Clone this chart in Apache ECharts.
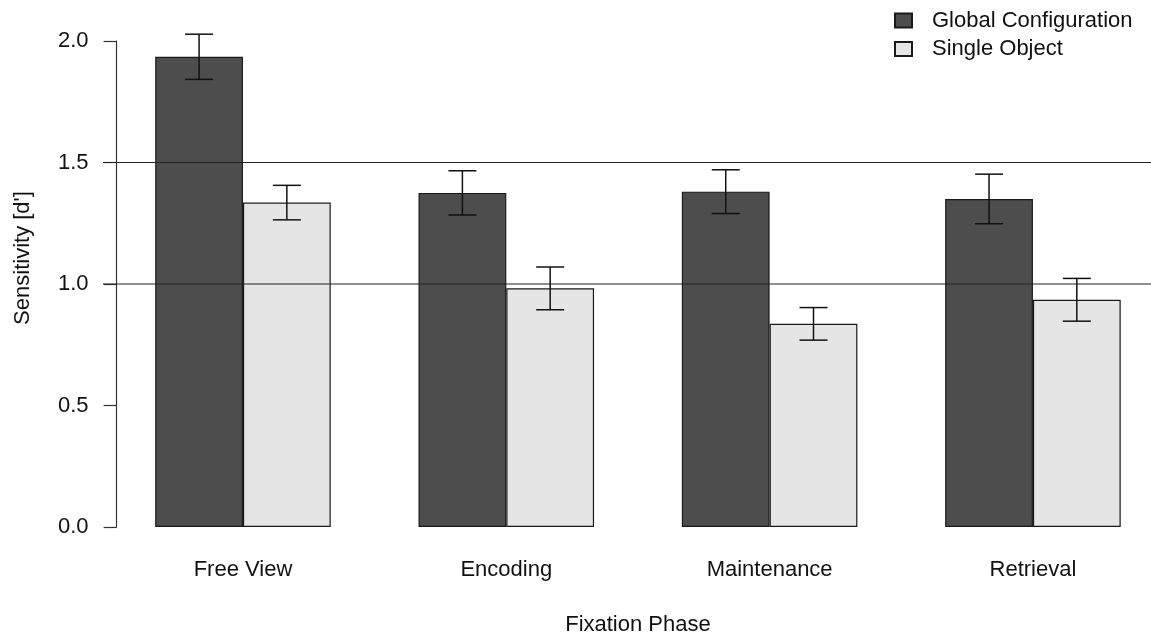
<!DOCTYPE html>
<html>
<head>
<meta charset="utf-8">
<script src="https://cdn.jsdelivr.net/npm/echarts@6/dist/echarts.min.js"></script>
<style>
html,body{margin:0;padding:0;background:#fff;overflow:hidden;}
#chart{width:1151px;height:635px;}
</style>
</head>
<body>
<div id="chart"></div>
<script>
// ---- data ----
const categories = ['Free View', 'Encoding', 'Maintenance', 'Retrieval'];
const seriesNames = ['Global Configuration', 'Single Object'];
const globalValues = [1.935, 1.375, 1.380, 1.350];
const globalErrors = [0.093, 0.091, 0.090, 0.102];
const singleValues = [1.335, 0.982, 0.836, 0.935];
const singleErrors = [0.071, 0.088, 0.067, 0.088];
const referenceLines = [1.0, 1.5];
const yTicks = [0, 0.5, 1.0, 1.5, 2.0];

const FONT = 'Liberation Sans, Arial, sans-serif';
const FS = 22;
const TXT = '#111';

function errData(vals, errs) {
  return vals.map((v, i) => [i, v - errs[i], v + errs[i]]);
}

function errRender(side) {
  return function (params, api) {
    const idx = api.value(0);
    const lo = api.coord([idx, api.value(1)]);
    const hi = api.coord([idx, api.value(2)]);
    const band = api.size([1, 0])[0];
    const x = lo[0] + side * band / 6;
    const hw = 14;
    const style = { stroke: '#111', lineWidth: 1.5 };
    return {
      type: 'group',
      children: [
        { type: 'line', shape: { x1: x, y1: lo[1], x2: x, y2: hi[1] }, style },
        { type: 'line', shape: { x1: x - hw, y1: lo[1], x2: x + hw, y2: lo[1] }, style },
        { type: 'line', shape: { x1: x - hw, y1: hi[1], x2: x + hw, y2: hi[1] }, style }
      ]
    };
  };
}

const chart = echarts.init(document.getElementById('chart'), null, { renderer: 'canvas' });

const refSeries = referenceLines.map(v => ({
  type: 'line',
  xAxisIndex: 1, yAxisIndex: 1,
  data: [[0, v], [1, v]],
  showSymbol: false, symbol: 'none',
  silent: true,
  z: 5,
  lineStyle: { color: '#222', width: 1.2 }
}));

chart.setOption({
  animation: false,
  backgroundColor: '#fff',
  textStyle: { fontFamily: FONT },
  grid: [
    { left: 111.3, width: 1053.3, top: 41, height: 486, containLabel: false, outerBoundsMode: 'none' },
    { left: 103, width: 1048, top: 41, height: 486, containLabel: false, outerBoundsMode: 'none' }
  ],
  legend: {
    orient: 'vertical',
    left: 889, top: 4.5,
    itemWidth: 17, itemHeight: 14,
    itemGap: 6.5,
    icon: 'rect',
    data: seriesNames,
    textStyle: { fontFamily: FONT, fontSize: FS, color: TXT, lineHeight: 22, padding: [0, 0, 0, 15] }
  },
  xAxis: [
    {
      type: 'category', gridIndex: 0,
      data: categories,
      axisLine: { show: false }, axisTick: { show: false },
      axisLabel: { fontFamily: FONT, fontSize: FS, color: TXT, margin: 32, lineHeight: 22 },
      name: 'Fixation Phase', nameLocation: 'middle', nameGap: 87,
      nameTextStyle: { fontFamily: FONT, fontSize: FS, color: TXT }
    },
    { type: 'value', gridIndex: 1, min: 0, max: 1, show: false }
  ],
  yAxis: [
    {
      type: 'value', gridIndex: 0, min: 0, max: 2, interval: 0.5,
      offset: -5.3,
      axisLine: { show: true, lineStyle: { color: '#333', width: 1.2 } },
      axisTick: { show: true, length: 13, lineStyle: { color: '#333', width: 1.2 } },
      splitLine: { show: false },
      axisLabel: { fontFamily: FONT, fontSize: FS, color: TXT, margin: 28, formatter: v => v.toFixed(1) },
      name: "Sensitivity [d']", nameLocation: 'middle', nameGap: 83, nameRotate: 90,
      nameTextStyle: { fontFamily: FONT, fontSize: FS, color: TXT, padding: [0, 0, 0, 52] }
    },
    { type: 'value', gridIndex: 1, min: 0, max: 2, show: false }
  ],
  series: [
    {
      name: seriesNames[0], type: 'bar', xAxisIndex: 0, yAxisIndex: 0,
      data: globalValues, barWidth: '33.333%', barGap: '0%',
      itemStyle: { color: '#4d4d4d', borderColor: '#1a1a1a', borderWidth: 1.2 }, z: 2
    },
    {
      name: seriesNames[1], type: 'bar', xAxisIndex: 0, yAxisIndex: 0,
      data: singleValues, barWidth: '33.333%', barGap: '0%',
      itemStyle: { color: '#e5e5e5', borderColor: '#1a1a1a', borderWidth: 1.2 }, z: 2
    },
    {
      type: 'custom', xAxisIndex: 0, yAxisIndex: 0, z: 6,
      renderItem: errRender(-1), data: errData(globalValues, globalErrors), silent: true
    },
    {
      type: 'custom', xAxisIndex: 0, yAxisIndex: 0, z: 6,
      renderItem: errRender(1), data: errData(singleValues, singleErrors), silent: true
    },
    ...refSeries
  ]
});
</script>
</body>
</html>
